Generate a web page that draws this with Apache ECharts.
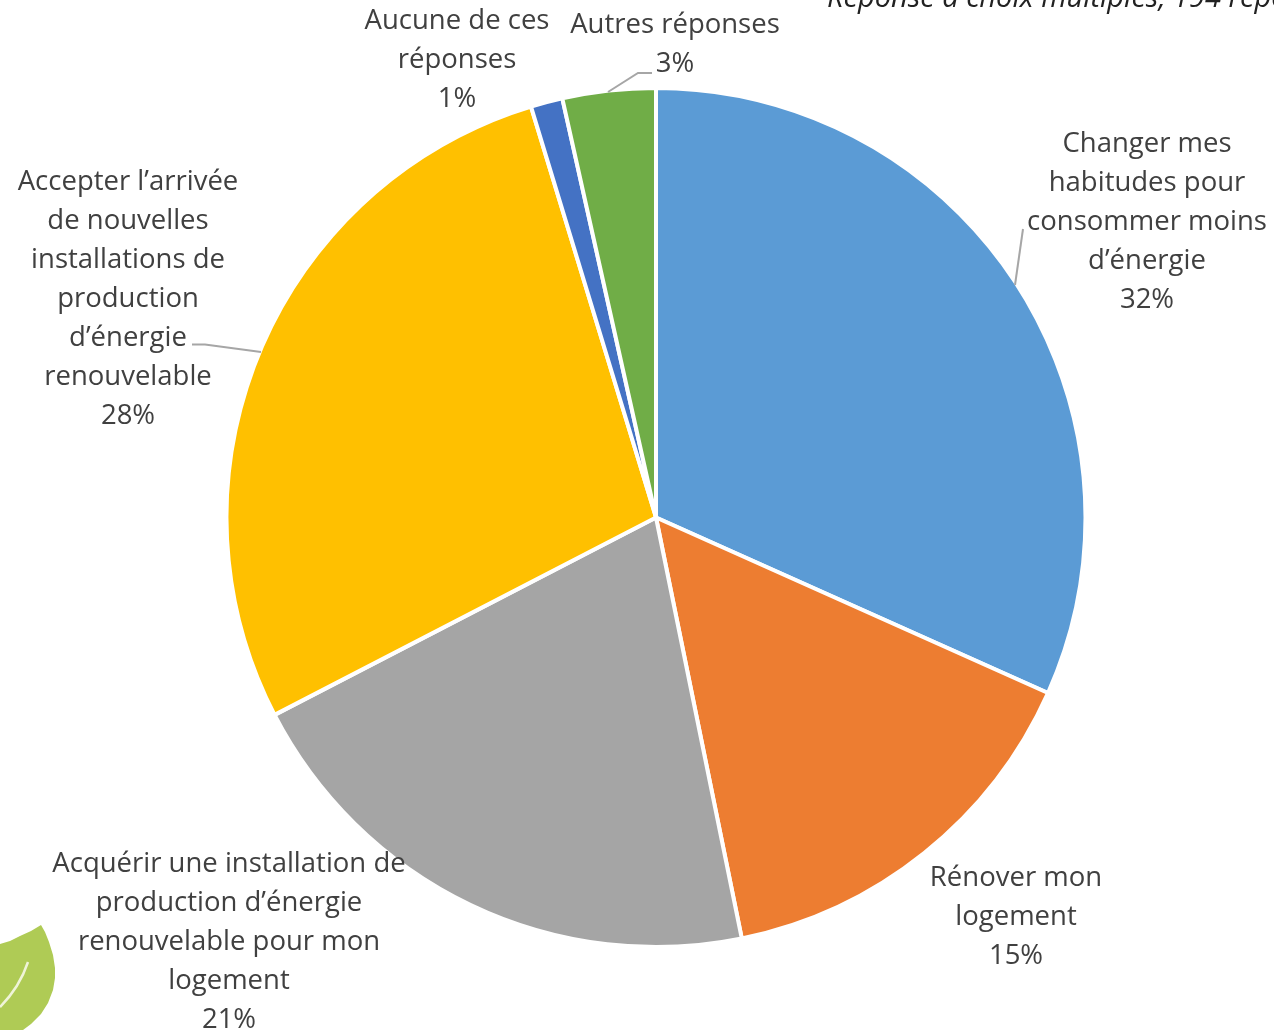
<!DOCTYPE html>
<html>
<head>
<meta charset="utf-8">
<style>
  html, body { margin: 0; padding: 0; background: #fff; overflow: hidden; }
  #chart { width: 1274px; height: 1030px; }
</style>
<script src="https://cdn.jsdelivr.net/npm/echarts@6/dist/echarts.min.js"></script>
</head>
<body>
<div id="chart"></div>
<script>
var categories = [
  'Changer mes\nhabitudes pour\nconsommer moins\nd’énergie',
  'Rénover mon\nlogement',
  'Acquérir une installation de\nproduction d’énergie\nrenouvelable pour mon\nlogement',
  'Accepter l’arrivée\nde nouvelles\ninstallations de\nproduction\nd’énergie\nrenouvelable',
  'Aucune de ces\nréponses',
  'Autres réponses'
];
var values = [31.7, 15.1, 20.6, 27.9, 1.2, 3.5];
var shownPercents = [32, 15, 21, 28, 1, 3];
var colors = ['#5B9BD5', '#ED7D31', '#A5A5A5', '#FFC000', '#4472C4', '#70AD47'];
var subtitle = 'Réponse à choix multiples, 194 répondants';

var labelCenters = [
  [1147, 222.5],
  [1016, 917.5],
  [229, 942.5],
  [128, 299.5],
  [457, 60.5],
  [675, 45]
];

// traits de rappel
var leaderLines = [
  [[1015, 285], [1023, 229]],
  [[261, 352], [205, 344.5], [192, 344.5]],
  [[608, 92], [638, 73], [652, 73]]
];

var seriesData = categories.map(function (name, i) {
  return {
    name: name,
    value: values[i],
    itemStyle: { color: colors[i] }
  };
});

var leaderGraphics = leaderLines.map(function (points) {
  return {
    type: 'polyline',
    z: 3,
    shape: { points: points },
    style: { fill: null, stroke: '#A6A6A6', lineWidth: 2 }
  };
});

var option = {
  animation: false,
  backgroundColor: '#fff',
  series: [
    {
      type: 'pie',
      center: [656, 517.5],
      radius: [0, 429.5],
      startAngle: 90,
      clockwise: true,
      avoidLabelOverlap: false,
      data: seriesData,
      itemStyle: {
        borderColor: '#fff',
        borderWidth: 4
      },
      label: {
        show: true,
        position: 'outside',
        fontFamily: 'Open Sans',
        fontSize: 27.5,
        lineHeight: 39,
        color: '#404040',
        align: 'center',
        formatter: function (p) {
          return p.name + '\n' + shownPercents[p.dataIndex] + '%';
        }
      },
      labelLine: { show: false },
      labelLayout: function (p) {
        return {
          x: labelCenters[p.dataIndex][0],
          y: labelCenters[p.dataIndex][1],
          align: 'center',
          verticalAlign: 'middle'
        };
      },
      z: 2
    }
  ],
  graphic: [
    {
      type: 'text',
      x: 827,
      y: -16,
      z: 5,
      style: {
        text: subtitle,
        fontFamily: 'Open Sans',
        fontStyle: 'italic',
        fontSize: 29,
        fill: '#222'
      }
    },
    {
      type: 'polygon',
      z: 1,
      shape: {
        points: [
          [41, 925], [45, 932], [49, 942], [53, 955], [55, 968], [55, 978], [53, 990], [48, 1003],
          [41, 1014], [31, 1024], [23, 1030], [0, 1030], [0, 944], [10, 941], [20, 936], [31, 931]
        ]
      },
      style: { fill: '#AFCB55' }
    },
    {
      type: 'bezierCurve',
      z: 1,
      shape: { x1: 28, y1: 962, cpx1: 22, cpy1: 980, cpx2: 12, cpy2: 995, x2: 0, y2: 1007 },
      style: { fill: null, stroke: '#EFF4D8', lineWidth: 2.5 }
    }
  ].concat(leaderGraphics)
};

var chart = echarts.init(document.getElementById('chart'), null, { renderer: 'canvas' });
chart.setOption(option);
</script>
</body>
</html>
